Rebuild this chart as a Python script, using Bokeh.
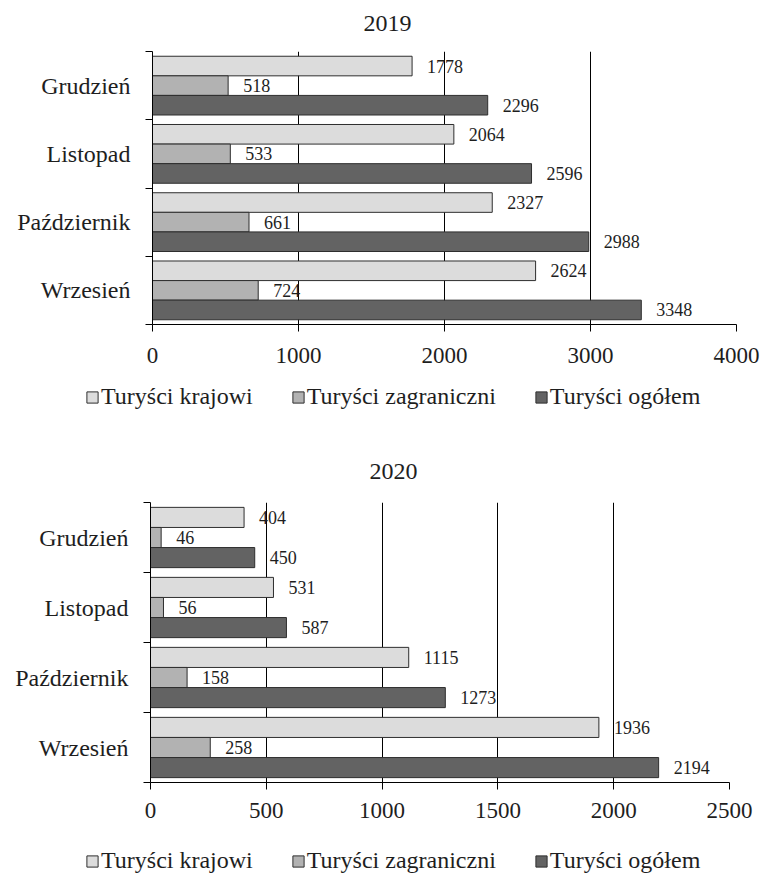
from bokeh.plotting import figure
from bokeh.models import (ColumnDataSource, Range1d, FixedTicker, LabelSet, Label,
                          Legend, LegendItem)
from bokeh.layouts import column
from bokeh.embed import file_html
from bokeh.resources import INLINE
from bokeh.core.properties import value

# ---- data ----
months = ["Grudzień", "Listopad", "Październik", "Wrzesień"]
series_names = ["Turyści krajowi", "Turyści zagraniczni", "Turyści ogółem"]

krajowi_2019 = [1778, 2064, 2327, 2624]
zagraniczni_2019 = [518, 533, 661, 724]
ogolem_2019 = [2296, 2596, 2988, 3348]

krajowi_2020 = [404, 531, 1115, 1936]
zagraniczni_2020 = [46, 56, 158, 258]
ogolem_2020 = [450, 587, 1273, 2194]

ticks_2019 = [0, 1000, 2000, 3000, 4000]
ticks_2020 = [0, 500, 1000, 1500, 2000, 2500]

# ---- style ----
FONT = "Liberation Serif"
TXT = "#1e1e1e"
colors = ["#dcdcdc", "#b2b2b2", "#636363"]
OUTLINE = "#2e2e2e"
BAR_H = 0.287
W = 762


def blank_fig(fig_h):
    q = figure(width=W, height=fig_h, x_range=Range1d(0, 1), y_range=Range1d(0, 1),
               output_backend="svg", toolbar_location=None,
               x_axis_location=None, y_axis_location=None, min_border=0)
    q.outline_line_color = None
    for g in q.grid:
        g.visible = False
    return q


def make_title(text, fig_h, cx, cy):
    q = blank_fig(fig_h)
    q.add_layout(Label(x=cx, y=fig_h - cy, x_units="screen", y_units="screen",
                       text=text, text_align="center", text_baseline="middle",
                       text_font=FONT, text_font_size="24px", text_color=TXT))
    return q


def make_chart(series, ticks, fig_h, b_left, b_right, b_top, frame_h, tick_standoff):
    n = len(months)
    centers = [n - i - 0.5 for i in range(n)]
    offsets = [BAR_H, 0.0, -BAR_H]
    p = figure(width=W, height=fig_h,
               x_range=Range1d(0, ticks[-1]), y_range=Range1d(0, n),
               output_backend="svg", toolbar_location=None,
               min_border_left=b_left, min_border_right=b_right,
               min_border_top=b_top, min_border_bottom=fig_h - b_top - frame_h)
    p.outline_line_color = None
    p.background_fill_color = "white"
    p.border_fill_color = "white"

    data = dict(y=centers)
    for j, vals in enumerate(series):
        data[f"v{j}"] = vals
        data[f"t{j}"] = [str(v) for v in vals]
        data[f"y{j}"] = [c + offsets[j] for c in centers]
    src = ColumnDataSource(data)

    for j, name in enumerate(series_names):
        p.hbar(y=f"y{j}", left=0, right=f"v{j}", height=BAR_H,
               fill_color=colors[j], line_color=OUTLINE, line_width=1,
               source=src)
        p.add_layout(LabelSet(x=f"v{j}", y=f"y{j}", text=f"t{j}", source=src,
                              x_offset=15, text_align="left",
                              text_baseline="middle",
                              text_font=value(FONT), text_font_size="18px",
                              text_color=TXT))

    # x axis
    xa = p.xaxis[0]
    xa.ticker = FixedTicker(ticks=ticks)
    xa.major_tick_out = 7
    xa.major_tick_in = 0
    xa.minor_tick_line_color = None
    xa.axis_line_color = "black"
    xa.major_tick_line_color = "black"
    xa.major_label_standoff = tick_standoff
    xa.major_label_text_font = FONT
    xa.major_label_text_font_size = "23px"
    xa.major_label_text_color = TXT

    # y axis (labels at centers, ticks at category boundaries)
    ya = p.yaxis[0]
    ya.ticker = FixedTicker(ticks=centers, minor_ticks=list(range(n + 1)))
    ya.major_label_overrides = {c: m for c, m in zip(centers, months)}
    ya.major_tick_line_color = None
    ya.major_tick_out = 0
    ya.major_tick_in = 0
    ya.minor_tick_out = 7
    ya.minor_tick_in = 0
    ya.minor_tick_line_color = "black"
    ya.axis_line_color = "black"
    ya.major_label_standoff = 15
    ya.major_label_text_font = FONT
    ya.major_label_text_font_size = "24px"
    ya.major_label_text_color = TXT

    p.xgrid.grid_line_color = "black"
    p.xgrid.grid_line_width = 1
    p.ygrid.grid_line_color = None
    return p


def make_legend(fig_h, loc):
    q = blank_fig(fig_h)
    items = []
    for j, name in enumerate(series_names):
        # one bar kept outside the visible range: only its legend swatch shows
        r = q.hbar(y=[-5], right=[1], left=0, height=0.5, fill_color=colors[j],
                   line_color=OUTLINE, line_width=1)
        items.append(LegendItem(label=name, renderers=[r]))
    legend = Legend(items=items, location=loc, orientation="horizontal",
                    glyph_width=14, glyph_height=14, label_standoff=2,
                    spacing=38, padding=0, margin=0,
                    border_line_color=None, background_fill_alpha=0,
                    label_text_font=FONT, label_text_font_size="24px",
                    label_text_color=TXT)
    q.add_layout(legend, "center")
    return q


t1 = make_title("2019", 40, 387, 23)
p1 = make_chart([krajowi_2019, zagraniczni_2019, ogolem_2019], ticks_2019,
                fig_h=338, b_left=152, b_right=W - 736, b_top=11, frame_h=273,
                tick_standoff=16)
l1 = make_legend(34, (85, 2))
t2 = make_title("2020", 76, 393, 59)
p2 = make_chart([krajowi_2020, zagraniczni_2020, ogolem_2020], ticks_2020,
                fig_h=344, b_left=150, b_right=W - 729, b_top=14, frame_h=280,
                tick_standoff=13)
l2 = make_legend(43, (85, 1))

layout = column(column(t1), column(p1), column(l1),
                column(t2), column(p2), column(l2), spacing=0)
open("out.html", "w").write(file_html(layout, INLINE))
